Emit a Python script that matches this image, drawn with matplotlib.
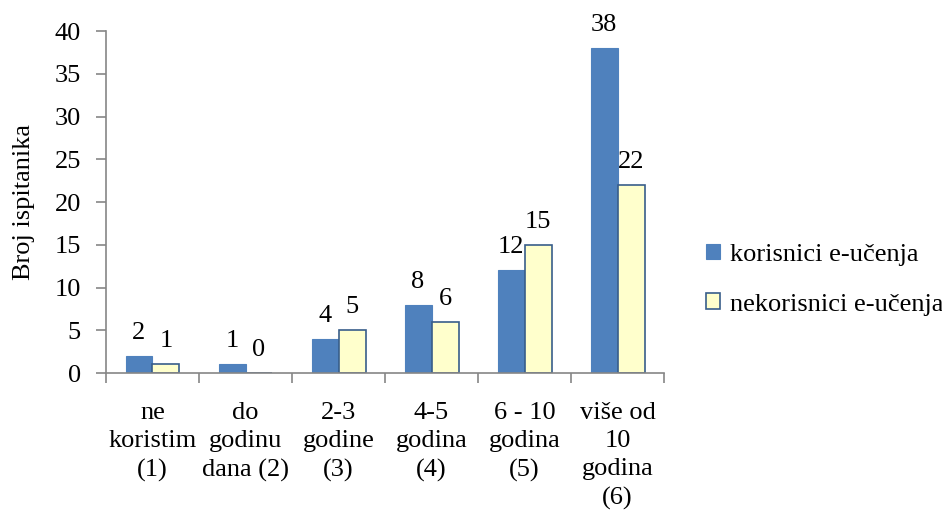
import matplotlib.pyplot as plt
import numpy as np

categories = ["ne\nkoristim\n(1)", "do\ngodinu\ndana (2)", "2-3\ngodine\n(3)",
              "4-5\ngodina\n(4)", "6 - 10\ngodina\n(5)", "više od\n10\ngodina\n(6)"]
korisnici = [2, 1, 4, 8, 12, 38]
nekorisnici = [1, 0, 5, 6, 15, 22]

plt.rcParams['font.family'] = ['Liberation Serif', 'DejaVu Serif']
plt.rcParams['font.size'] = 19

fig = plt.figure(figsize=(9.42, 5.15), dpi=100)
ax = fig.add_axes([0.1125, 0.2757, 0.5925, 0.6641])

x = np.arange(len(categories))
w = 0.29
b1 = ax.bar(x - w / 2, korisnici, w, color='#4F81BD', edgecolor='#4F81BD',
            linewidth=0.8, label='korisnici e-učenja')
b2 = ax.bar(x + w / 2, nekorisnici, w, color='#FFFFCC', edgecolor='#385D8A',
            linewidth=1.2, label='nekorisnici e-učenja')

for xi, v in zip(x - w / 2, korisnici):
    ax.text(xi, v + 1.4, str(v), ha='center', va='bottom')
for xi, v in zip(x + w / 2, nekorisnici):
    ax.text(xi, v + 1.4, str(v), ha='center', va='bottom')

ax.set_xlim(-0.5, len(categories) - 0.5)
ax.set_ylim(0, 40)
ax.set_yticks(range(0, 41, 5))
ax.set_ylabel('Broj ispitanika')
ax.yaxis.set_label_coords(-0.128, 0.5)

# category labels centered, tick marks between categories
ax.set_xticks(x)
ax.set_xticklabels(categories, linespacing=1.36, va='top')
ax.tick_params(axis='x', length=0, pad=21)
ax.set_xticks(np.arange(-0.5, len(categories)), minor=True)
ax.tick_params(axis='x', which='minor', length=7, direction='out', color='#868686', width=1.2)
ax.tick_params(axis='y', length=7, direction='out', color='#868686', width=1.2, pad=11)

for s in ['top', 'right']:
    ax.spines[s].set_visible(False)
for s in ['left', 'bottom']:
    ax.spines[s].set_color('#868686')
    ax.spines[s].set_linewidth(1.2)

leg = fig.legend(handles=[b1, b2], loc='center left', bbox_to_anchor=(0.724, 0.457),
                 frameon=False, handlelength=0.55, handleheight=0.55,
                 handletextpad=0.35, labelspacing=1.05)

fig.savefig('out.png', dpi=100)
